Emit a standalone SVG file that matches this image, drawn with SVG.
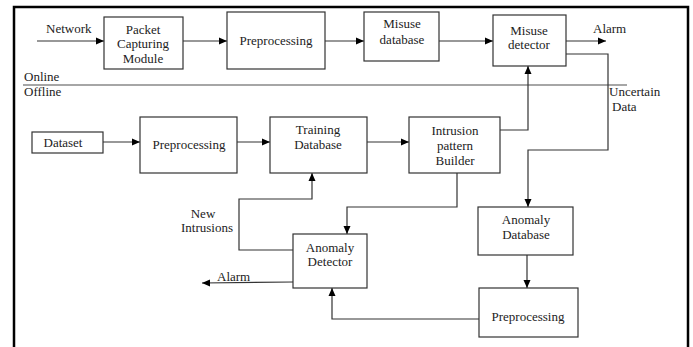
<svg xmlns="http://www.w3.org/2000/svg" width="693" height="347" viewBox="0 0 693 347">
<style>
text{font-family:"Liberation Serif","Times New Roman",serif;font-size:13px;fill:#222}
.c{text-anchor:middle}
.box{fill:#fff;stroke:#333;stroke-width:1.2}
.ln{fill:none;stroke:#333;stroke-width:1.2}
.arr{marker-end:url(#ah)}
</style>
<defs>
<marker id="ah" markerUnits="userSpaceOnUse" markerWidth="9" markerHeight="8" refX="8" refY="4" orient="auto">
<path d="M0,0.5 L8,4 L0,7.5 z" fill="#000"/>
</marker>
</defs>
<rect width="693" height="347" fill="#fff"/>
<rect x="14" y="7" width="674" height="400" fill="none" stroke="#000" stroke-width="2.5"/>

<g id="separator">
<line x1="23" y1="85" x2="627" y2="85" stroke="#888" stroke-width="1.3"/>
<text x="24" y="81">Online</text>
<text x="24" y="96">Offline</text>
</g>

<g id="connectors">
<line class="ln arr" x1="37" y1="41" x2="104" y2="41"/>
<line class="ln arr" x1="183" y1="41" x2="227" y2="41"/>
<line class="ln arr" x1="325" y1="41" x2="364" y2="41"/>
<line class="ln arr" x1="439" y1="41" x2="493" y2="41"/>
<line class="ln arr" x1="566" y1="41" x2="606" y2="41"/>
<polyline class="ln arr" points="566,54 608,54 608,150 528,150 528,207"/>
<polyline class="ln arr" points="500,130 528,130 528,66"/>
<line class="ln arr" x1="103" y1="142" x2="140" y2="142"/>
<line class="ln arr" x1="237" y1="142" x2="270" y2="142"/>
<line class="ln arr" x1="367" y1="142" x2="409" y2="142"/>
<polyline class="ln arr" points="457,173 457,207 347,207 347,234"/>
<line class="ln arr" x1="527" y1="255" x2="527" y2="288"/>
<polyline class="ln arr" points="479,319 332,319 332,288"/>
<line class="ln arr" x1="293" y1="282" x2="202" y2="283"/>
<polyline class="ln arr" points="293,250 239,250 239,199 312,199 312,173"/>
<text x="46" y="33">Network</text>
<text x="593" y="33">Alarm</text>
<text x="609" y="96">Uncertain</text>
<text x="612" y="111">Data</text>
<text x="217" y="281">Alarm</text>
<text class="c" x="203" y="218">New</text>
<text class="c" x="207" y="232">Intrusions</text>
</g>

<g id="packet-capturing">
<rect class="box" x="104" y="17" width="79" height="52"/>
<text class="c" x="143" y="34">Packet</text>
<text class="c" x="143" y="48">Capturing</text>
<text class="c" x="143" y="63">Module</text>
</g>
<g id="preprocessing-online">
<rect class="box" x="227" y="12" width="98" height="57"/>
<text class="c" x="276" y="45">Preprocessing</text>
</g>
<g id="misuse-database">
<rect class="box" x="364" y="12" width="75" height="49"/>
<text class="c" x="402" y="28">Misuse</text>
<text class="c" x="402" y="44">database</text>
</g>
<g id="misuse-detector">
<rect class="box" x="493" y="15" width="73" height="51"/>
<text class="c" x="529" y="35">Misuse</text>
<text class="c" x="529" y="49">detector</text>
</g>
<g id="dataset">
<rect class="box" x="32" y="132" width="71" height="21"/>
<text class="c" x="63" y="147">Dataset</text>
</g>
<g id="preprocessing-offline">
<rect class="box" x="140" y="117" width="97" height="56"/>
<text class="c" x="189" y="149">Preprocessing</text>
</g>
<g id="training-database">
<rect class="box" x="270" y="117" width="97" height="56"/>
<text class="c" x="318" y="134">Training</text>
<text class="c" x="318" y="149">Database</text>
</g>
<g id="intrusion-pattern-builder">
<rect class="box" x="409" y="117" width="91" height="56"/>
<text class="c" x="455" y="135">Intrusion</text>
<text class="c" x="455" y="150">pattern</text>
<text class="c" x="455" y="165">Builder</text>
</g>
<g id="anomaly-database">
<rect class="box" x="478" y="207" width="95" height="48"/>
<text class="c" x="526" y="224">Anomaly</text>
<text class="c" x="526" y="239">Database</text>
</g>
<g id="preprocessing-anomaly">
<rect class="box" x="479" y="288" width="99" height="49"/>
<text class="c" x="528" y="321">Preprocessing</text>
</g>
<g id="anomaly-detector">
<rect class="box" x="293" y="234" width="74" height="54"/>
<text class="c" x="330" y="252">Anomaly</text>
<text class="c" x="330" y="266">Detector</text>
</g>
</svg>
